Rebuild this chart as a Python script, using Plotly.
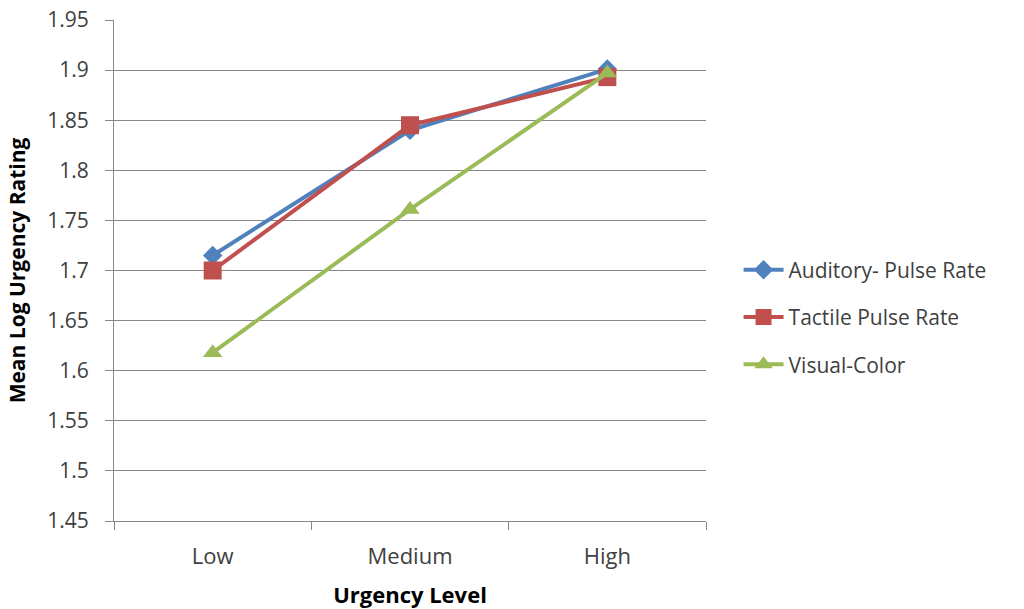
import plotly.graph_objects as go

levels = ["Low", "Medium", "High"]
auditory = [1.715, 1.840, 1.901]
tactile = [1.700, 1.845, 1.893]
visual = [1.618, 1.761, 1.897]

series = [
    ("Auditory- Pulse Rate", auditory, "#4F81BD", "diamond", 15),
    ("Tactile Pulse Rate", tactile, "#C0504D", "square", 18),
    ("Visual-Color", visual, "#9BBB59", "triangle-up", 17),
]

fig = go.Figure()
for name, vals, color, symbol, size in series:
    fig.add_trace(go.Scatter(
        x=levels, y=vals, name=name, legendgroup=name, mode="lines+markers",
        line=dict(color=color, width=4),
        marker=dict(symbol=symbol, size=size, color=color, line=dict(width=0)),
    ))

font = "'Open Sans', sans-serif"
fig.update_layout(
    width=1024, height=609,
    margin=dict(l=114, r=318, t=20, b=88),
    paper_bgcolor="white", plot_bgcolor="white",
    font=dict(family=font, size=21, color="#404040"),
    showlegend=True,
    legend=dict(x=1.055, y=0.407, xanchor="left", yanchor="middle",
                font=dict(size=21, color="#404040"), tracegroupgap=17,
                itemwidth=40, itemsizing="trace"),
    xaxis=dict(
        type="category", range=[-0.5, 2.5], tickson="boundaries",
        ticks="outside", ticklen=8, tickcolor="#868686",
        showline=True, linecolor="#868686", linewidth=1,
        showgrid=False, zeroline=False, ticklabelstandoff=16,
        automargin=False, tickfont=dict(size=22),
        title=dict(text="<b>Urgency Level</b>", font=dict(size=22, color="black"), standoff=18),
    ),
    yaxis=dict(
        range=[1.45, 1.95], dtick=0.05, tickformat="~g",
        ticks="outside", ticklen=8, tickcolor="#868686",
        showline=True, linecolor="#868686", linewidth=1,
        showgrid=True, gridcolor="#868686", gridwidth=1, zeroline=False,
        ticklabelstandoff=12, automargin=False, tickfont=dict(size=21),
        title=dict(text="<b>Mean Log Urgency Rating</b>", font=dict(size=21, color="black"), standoff=15),
    ),
)

fig.write_html("out.html")
